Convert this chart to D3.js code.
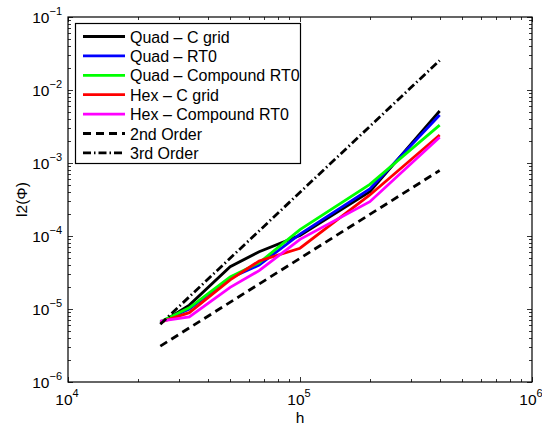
<!DOCTYPE html>
<html>
<head>
<meta charset="utf-8">
<script src="https://cdn.jsdelivr.net/npm/d3@7"></script>
<style>body{margin:0;background:#fff;}</style>
</head>
<body>
<script>
// grid spacing h (m)
var hVals = [25000, 33333, 50000, 66667, 100000, 200000, 400000];

// l2 errors
var quadC     = [6.4e-6, 1.13e-5, 3.8e-5, 6.1e-5, 1.02e-4, 4.05e-4, 5.15e-3];
var quadRT0   = [6.6e-6, 1.0e-5, 2.66e-5, 4.0e-5, 1.06e-4, 4.4e-4, 4.55e-3];
var quadCRT0  = [6.7e-6, 1.04e-5, 2.74e-5, 4.3e-5, 1.22e-4, 5.1e-4, 3.3e-3];
var hexC      = [6.6e-6, 8.9e-6, 2.5e-5, 4.55e-5, 6.8e-5, 3.65e-4, 2.42e-3];
var hexCRT0   = [6.8e-6, 7.8e-6, 1.98e-5, 3.35e-5, 9.0e-5, 2.95e-4, 2.25e-3];

// reference slopes
var refH = [25000, 400000];
var order2 = [3.1e-6, 7.9e-4];
var order3 = [6.2e-6, 0.0254];

var seriesNames = ["Quad \u2013 C grid", "Quad \u2013 RT0", "Quad \u2013 Compound RT0",
                   "Hex \u2013 C grid", "Hex \u2013 Compound RT0", "2nd Order", "3rd Order"];
var seriesColors = ["#000000", "#0000ff", "#00ff00", "#ff0000", "#ff00ff", "#000000", "#000000"];
var seriesDash = [null, null, null, null, null, "8,5", "8,3,1.5,3"];

var xExps = [4, 5, 6];
var yExps = [-6, -5, -4, -3, -2, -1];

var series = [
  {x: hVals, y: quadC}, {x: hVals, y: quadRT0}, {x: hVals, y: quadCRT0},
  {x: hVals, y: hexC}, {x: hVals, y: hexCRT0},
  {x: refH, y: order2}, {x: refH, y: order3}
];

var W = 542, H = 428;
var L = 68, R = 532, T = 17, B = 382;
var font = "Liberation Sans, Arial, Helvetica, sans-serif";

var svg = d3.select("body").append("svg")
  .attr("width", W).attr("height", H);

var x = d3.scaleLog().domain([1e4, 1e6]).range([L, R]);
var y = d3.scaleLog().domain([1e-6, 1e-1]).range([B, T]);

function isMajor(v) {
  var e = Math.log10(v);
  return Math.abs(e - Math.round(e)) < 1e-9;
}

// ticks on all four sides, pointing inward
var tk = svg.append("g").attr("stroke", "#000").attr("stroke-width", 0.8);
x.ticks().forEach(function(v) {
  var len = isMajor(v) ? 5 : 3;
  var px = Math.round(x(v)) + 0.5;
  tk.append("line").attr("x1", px).attr("x2", px).attr("y1", B).attr("y2", B - len);
  tk.append("line").attr("x1", px).attr("x2", px).attr("y1", T).attr("y2", T + len);
});
y.ticks().forEach(function(v) {
  var len = isMajor(v) ? 5 : 3;
  var py = Math.round(y(v)) + 0.5;
  tk.append("line").attr("y1", py).attr("y2", py).attr("x1", L).attr("x2", L + len);
  tk.append("line").attr("y1", py).attr("y2", py).attr("x1", R).attr("x2", R - len);
});

// lines
var line = d3.line()
  .x(function(d) { return x(d[0]); })
  .y(function(d) { return y(d[1]); });

series.forEach(function(s, i) {
  var pts = s.x.map(function(h, j) { return [h, s.y[j]]; });
  svg.append("path")
    .datum(pts)
    .attr("d", line)
    .attr("fill", "none")
    .attr("stroke", seriesColors[i])
    .attr("stroke-width", 2.8)
    .attr("stroke-dasharray", seriesDash[i]);
});

// axes box
svg.append("rect")
  .attr("x", L).attr("y", T).attr("width", R - L).attr("height", B - T)
  .attr("fill", "none").attr("stroke", "#000").attr("stroke-width", 1.2);

// tick labels
xExps.forEach(function(e) {
  var t = svg.append("text")
    .attr("x", x(Math.pow(10, e)) - 1).attr("y", 405)
    .attr("font-family", font).attr("font-size", "15.5px")
    .attr("text-anchor", "middle");
  t.append("tspan").text("10");
  t.append("tspan").attr("dy", -8).attr("font-size", "11px").text(e);
});
yExps.forEach(function(e) {
  var t = svg.append("text")
    .attr("x", 62).attr("y", y(Math.pow(10, e)) + 6)
    .attr("font-family", font).attr("font-size", "15.5px")
    .attr("text-anchor", "end");
  t.append("tspan").text("10");
  t.append("tspan").attr("dy", -8).attr("font-size", "11px").text("\u2212" + (-e));
});

// axis labels
svg.append("text")
  .attr("x", x(1e5)).attr("y", 423)
  .attr("font-family", font).attr("font-size", "15.5px")
  .attr("text-anchor", "middle").text("h");
svg.append("text")
  .attr("transform", "translate(27," + ((T + B) / 2) + ") rotate(-90)")
  .attr("font-family", font).attr("font-size", "15.5px")
  .attr("text-anchor", "middle").text("l2(\u03A6)");

// legend
var lg = svg.append("g");
lg.append("rect")
  .attr("x", 75.5).attr("y", 23.5).attr("width", 225).attr("height", 140)
  .attr("fill", "#fff").attr("stroke", "#000").attr("stroke-width", 1.2);
seriesNames.forEach(function(name, i) {
  var cy = 36.5 + i * 19.4;
  lg.append("line")
    .attr("x1", 83).attr("x2", 125).attr("y1", cy).attr("y2", cy)
    .attr("stroke", seriesColors[i]).attr("stroke-width", 2.8)
    .attr("stroke-dasharray", seriesDash[i]);
  lg.append("text")
    .attr("x", 130).attr("y", cy + 6)
    .attr("font-family", font).attr("font-size", "16px")
    .text(name);
});
</script>
</body>
</html>
